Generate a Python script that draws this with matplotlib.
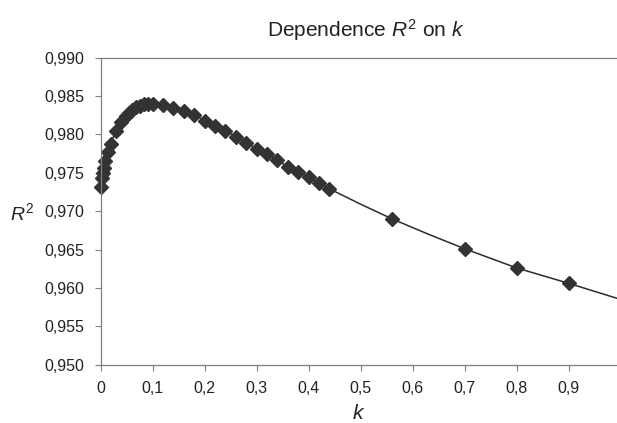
import matplotlib
matplotlib.use("Agg")
import matplotlib.pyplot as plt
import numpy as np

plt.rcParams["font.family"] = ["Liberation Sans", "DejaVu Sans"]
plt.rcParams["mathtext.fontset"] = "custom"
plt.rcParams["mathtext.rm"] = "Liberation Sans"
plt.rcParams["mathtext.it"] = "Liberation Sans:italic"

# marker points
k_pts = [0.001, 0.003, 0.005, 0.007, 0.009, 0.014, 0.019, 0.029, 0.040, 0.048,
         0.054, 0.061, 0.068, 0.075, 0.083, 0.091, 0.100, 0.12, 0.14, 0.16,
         0.18, 0.20, 0.22, 0.24, 0.26, 0.28, 0.30, 0.32, 0.34, 0.36,
         0.38, 0.40, 0.42, 0.44, 0.56, 0.70, 0.80, 0.90]
r2_pts = [0.9731, 0.9743, 0.9750, 0.9756, 0.9765, 0.9777, 0.9788, 0.9804, 0.9816, 0.9824,
          0.9828, 0.9832, 0.9835, 0.9837, 0.9839, 0.9840, 0.9840, 0.9838, 0.9834, 0.9830,
          0.9825, 0.9818, 0.9811, 0.9804, 0.9797, 0.9789, 0.9781, 0.9774, 0.9766, 0.9758,
          0.9751, 0.9744, 0.9737, 0.9729, 0.9690, 0.9651, 0.9626, 0.9606]

# ends of the curve outside the markers
k_start, r2_start = [0.0], [0.9685]
k_end, r2_end = [0.5, 0.63, 1.0], [0.9709, 0.9670, 0.9585]

x_ticks = [0, 0.1, 0.2, 0.3, 0.4, 0.5, 0.6, 0.7, 0.8, 0.9]
x_labels = ["0", "0,1", "0,2", "0,3", "0,4", "0,5", "0,6", "0,7", "0,8", "0,9"]
y_ticks = [0.950, 0.955, 0.960, 0.965, 0.970, 0.975, 0.980, 0.985, 0.990]
y_labels = ["0,950", "0,955", "0,960", "0,965", "0,970", "0,975", "0,980", "0,985", "0,990"]

k_line = k_start + k_pts[:34] + k_end[:1] + k_pts[34:35] + k_end[1:2] + k_pts[35:] + k_end[2:]
r2_line = r2_start + r2_pts[:34] + r2_end[:1] + r2_pts[34:35] + r2_end[1:2] + r2_pts[35:] + r2_end[2:]

fig = plt.figure(figsize=(6.17, 4.23), dpi=100)
ax = fig.add_axes([0.1632, 0.1378, 0.8368, 0.7262])

ax.plot(k_line, r2_line, color="#2b2b2b", lw=1.1)
ax.plot(k_pts, r2_pts, ls="none", marker="D", ms=6.8, color="#333333", clip_on=False)

ax.set_xlim(0, 0.993)
ax.set_ylim(0.950, 0.990)
ax.set_xticks(x_ticks, x_labels)
ax.set_yticks(y_ticks, y_labels)
ax.tick_params(axis="both", direction="out", length=4.5, width=0.8,
               color="#808080", labelsize=11.5, labelcolor="#222222")
ax.tick_params(axis="x", pad=7)
ax.tick_params(axis="y", pad=7)

for s in ["left", "bottom", "top"]:
    ax.spines[s].set_color("#808080")
    ax.spines[s].set_linewidth(0.9)
ax.spines["right"].set_visible(False)

ax.set_xlabel("$k$", fontsize=15, color="#222222", labelpad=6)
fig.text(22 / 617, 1 - 213 / 423, "$R^{2}$", fontsize=14, color="#222222",
         ha="center", va="center", rotation=0)
fig.text(366 / 617, 1 - 30 / 423, "Dependence $R^{2}$ on $k$", fontsize=15,
         color="#222222", ha="center", va="center")

fig.savefig("out.png", dpi=100)
